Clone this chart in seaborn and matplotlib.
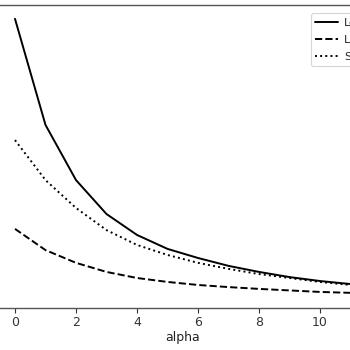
import matplotlib
matplotlib.use("Agg")
import matplotlib.pyplot as plt
import seaborn as sns
import pandas as pd

# Curves against alpha
alpha = [0, 1, 2, 3, 4, 5, 6, 7, 8, 9, 10, 11, 12]
loss = [9.54, 6.04, 4.22, 3.10, 2.41, 1.95, 1.65, 1.39, 1.19, 1.02, 0.89, 0.79, 0.71]
l2_term = [2.61, 1.91, 1.49, 1.19, 0.99, 0.86, 0.76, 0.69, 0.63, 0.58, 0.53, 0.50, 0.47]
smooth = [5.54, 4.22, 3.30, 2.57, 2.08, 1.75, 1.49, 1.29, 1.12, 0.99, 0.86, 0.76, 0.68]
labels = ["Loss", "L2 term", "Smoothed"]
styles = ["-", "--", ":"]

df = pd.DataFrame({"alpha": alpha, labels[0]: loss, labels[1]: l2_term, labels[2]: smooth})

sns.set_style("white")
fig = plt.figure(figsize=(3.5, 3.5), dpi=100)
ax = fig.add_axes([-0.0443, 0.12, 1.133, 0.866])

for lab, ls in zip(labels, styles):
    sns.lineplot(data=df, x="alpha", y=lab, ax=ax, color="black",
                 linestyle=ls, linewidth=1.4, label=lab)

ax.set_xlim(-1, 12)
ax.set_ylim(0, 10)
ax.set_xticks([0, 2, 4, 6, 8, 10])
ax.set_yticks([])
ax.set_ylabel("")
ax.set_xlabel("alpha", fontsize=9, color="#222222", labelpad=2)
ax.tick_params(axis="x", labelsize=9, colors="#333333", length=3.5, width=0.8,
               bottom=True, pad=2)
for sp in ax.spines.values():
    sp.set_color("#555555")
    sp.set_linewidth(1.0)

leg = ax.legend(loc="upper left",
                bbox_to_anchor=(311 / 350 / 1.133 + 0.0443 / 1.133, 0.972),
                fontsize=8, frameon=True, handlelength=2.0, handletextpad=0.6,
                labelspacing=0.62, borderaxespad=0.0)
leg.get_frame().set_edgecolor("#cccccc")
leg.get_frame().set_linewidth(0.8)

fig.savefig("out.png", dpi=100)
